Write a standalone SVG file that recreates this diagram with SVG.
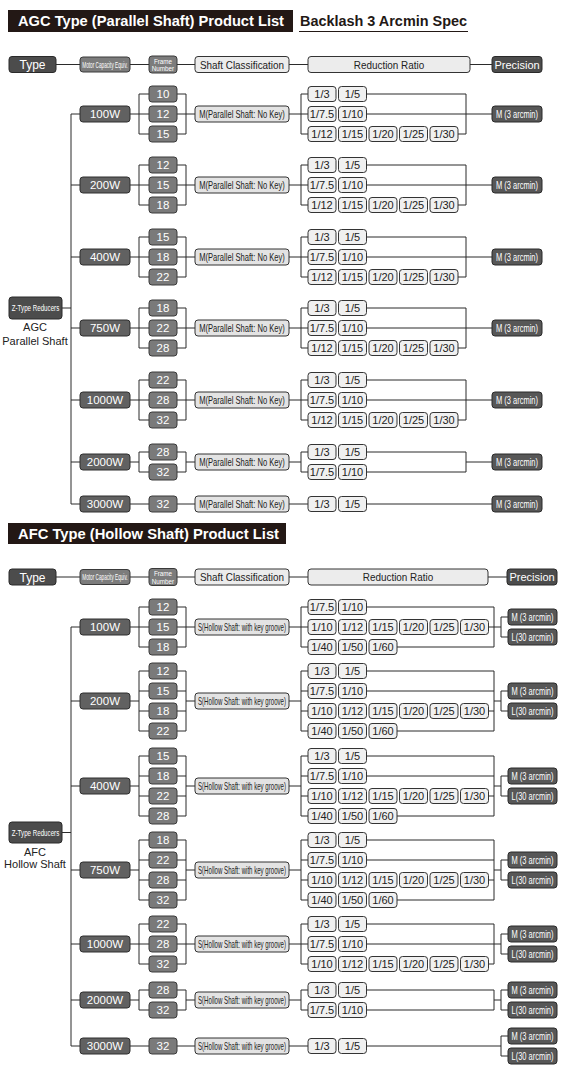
<svg xmlns="http://www.w3.org/2000/svg" width="565" height="1068" viewBox="0 0 565 1068">
<style>
text{font-family:"Liberation Sans",Arial,sans-serif;text-anchor:middle}
rect{rx:3px;ry:3px}
.w{fill:#616161;stroke:#2f2f2f;stroke-width:1}
.f{fill:#7a7a7a;stroke:#3a3a3a;stroke-width:1}
.s{fill:#e3e3e3;stroke:#333;stroke-width:1}
.r{fill:#f0f0f0;stroke:#333;stroke-width:1}
.p{fill:#575757;stroke:#2a2a2a;stroke-width:1}
.h{fill:#4c4c4c;stroke:#2a2a2a;stroke-width:1}
.m{fill:#7c7c7c;stroke:#3a3a3a;stroke-width:1}
.tw{fill:#fff;font-size:11.5px}
.tf{fill:#fff;font-size:11.5px}
.ts{fill:#222;font-size:10px}
.tr{fill:#222;font-size:11px}
.tp{fill:#fff;font-size:10px}
.tl{fill:#222;font-size:11px}
.tt{fill:#fff;font-size:14px;font-weight:bold;text-anchor:start}
.ln{fill:none;stroke:#2b2b2b;stroke-width:1}
</style>

<g id="agc-title"><rect x="8" y="10" width="285" height="22" fill="#231815" style="rx:0"/><text class="tt" x="18" y="26" textLength="266" lengthAdjust="spacingAndGlyphs">AGC Type (Parallel Shaft) Product List</text></g>
<g id="agc-subtitle"><text x="300" y="25.5" style="text-anchor:start;font-size:14px;font-weight:bold;fill:#231815" textLength="167" lengthAdjust="spacingAndGlyphs">Backlash 3 Arcmin Spec</text><line x1="299" y1="31.5" x2="468" y2="31.5" stroke="#231815" stroke-width="1.2"/></g>

<g id="agc-h-type"><rect class="h" x="9" y="56.5" width="47" height="16"/><text class="tw" x="32.5" y="69" style="font-size:12px">Type</text></g>
<g id="agc-h-motor"><rect class="m" x="80" y="57" width="50" height="15"/><text class="tp" transform="translate(105 67.8) scale(0.52 1)" style="font-size:9px">Motor Capacity Equiv.</text></g>
<g id="agc-h-frame"><rect class="m" x="149" y="56" width="28" height="17"/><text class="tp" transform="translate(163 63.5) scale(0.9 1)" style="font-size:7px">Frame</text><text class="tp" transform="translate(163 71) scale(0.9 1)" style="font-size:7px">Number</text></g>
<g id="agc-h-shaft"><rect class="s" x="195" y="56.5" width="94" height="16" style="fill:#ececec"/><text class="tr" transform="translate(242 68.5) scale(0.9 1)">Shaft Classification</text></g>
<g id="agc-h-ratio"><rect class="s" x="308" y="56.5" width="162" height="16" style="fill:#ececec"/><text class="tr" transform="translate(389 68.5) scale(0.9 1)">Reduction Ratio</text></g>
<g id="agc-h-prec"><rect class="h" x="492" y="56.5" width="50" height="16"/><text class="tw" x="517" y="68.5" style="font-size:11px">Precision</text></g>

<g id="agc-ztype"><rect class="h" x="9" y="297" width="53" height="22"/><text class="tp" transform="translate(35.5 311.2) scale(0.69 1)" style="font-size:9px">Z-Type Reducers</text></g>
<g id="agc-label"><text class="tl" x="35" y="331">AGC</text><text class="tl" x="35" y="345">Parallel Shaft</text></g>

<g id="connectors">
<path class="ln" d="M56 64.5H80M130 64.5H149M177 64.5H195M289 64.5H308M470 64.5H492"/>
<path class="ln" d="M71 114V504M62 308H71"/>
<path class="ln" d="M71 114H80M130 114H149M139 94V134H149M139 94H149M177 94H186V134H177M177 114H195M289 114H308M301 94V134H308M301 94H308M366.5 94H466V134H458M366.5 114H492"/>
<path class="ln" d="M71 185H80M130 185H149M139 165V205H149M139 165H149M177 165H186V205H177M177 185H195M289 185H308M301 165V205H308M301 165H308M366.5 165H466V205H458M366.5 185H492"/>
<path class="ln" d="M71 257H80M130 257H149M139 237V277H149M139 237H149M177 237H186V277H177M177 257H195M289 257H308M301 237V277H308M301 237H308M366.5 237H466V277H458M366.5 257H492"/>
<path class="ln" d="M71 328H80M130 328H149M139 308V348H149M139 308H149M177 308H186V348H177M177 328H195M289 328H308M301 308V348H308M301 308H308M366.5 308H466V348H458M366.5 328H492"/>
<path class="ln" d="M71 400H80M130 400H149M139 380V420H149M139 380H149M177 380H186V420H177M177 400H195M289 400H308M301 380V420H308M301 380H308M366.5 380H466V420H458M366.5 400H492"/>
<path class="ln" d="M71 462H80M130 462H139M139 452V472M139 452H149M139 472H149M177 452H186V472H177M186 462H195M289 462H301M301 452V472M301 452H308M301 472H308M366.5 452H466V472H366.5M466 462H492"/>
<path class="ln" d="M71 504H80M130 504H149M177 504H195M289 504H308M366.5 504H492"/>

<path class="ln" d="M56 577H80M130 577H149M177 577H195M289 577H308M488 577H507"/>
<path class="ln" d="M71 627V1046M62 832.5H71"/>
<path class="ln" d="M71 627H80M130 627H149M139 607V647H149M139 607H149M177 607H186V647H177M177 627H195M289 627H308M301 607V647H308M301 607H308M366.5 607H494V647H397M488.5 627H501M501 617V637M501 617H508M501 637H508"/>
<path class="ln" d="M71 701H80M130 701H139M139 671V731M139 671H149M139 691H149M139 711H149M139 731H149M177 671H186V731H177M177 691H186M177 711H186M186 701H195M289 701H301M301 671V731M301 671H308M301 691H308M301 711H308M301 731H308M366.5 671H494V731H397M366.5 691H494M488.5 711H494M494 701H501M501 691V711M501 691H508M501 711H508"/>
<path class="ln" d="M71 786H80M130 786H139M139 756V816M139 756H149M139 776H149M139 796H149M139 816H149M177 756H186V816H177M177 776H186M177 796H186M186 786H195M289 786H301M301 756V816M301 756H308M301 776H308M301 796H308M301 816H308M366.5 756H494V816H397M366.5 776H494M488.5 796H494M494 786H501M501 776V796M501 776H508M501 796H508"/>
<path class="ln" d="M71 870H80M130 870H139M139 840V900M139 840H149M139 860H149M139 880H149M139 900H149M177 840H186V900H177M177 860H186M177 880H186M186 870H195M289 870H301M301 840V900M301 840H308M301 860H308M301 880H308M301 900H308M366.5 840H494V900H397M366.5 860H494M488.5 880H494M494 870H501M501 860V880M501 860H508M501 880H508"/>
<path class="ln" d="M71 944H80M130 944H149M139 924V964H149M139 924H149M177 924H186V964H177M177 944H195M289 944H308M301 924V964H308M301 924H308M366.5 924H494V964H488.5M366.5 944H501M501 934V954M501 934H508M501 954H508"/>
<path class="ln" d="M71 1000H80M130 1000H139M139 990V1010M139 990H149M139 1010H149M177 990H186V1010H177M186 1000H195M289 1000H301M301 990V1010M301 990H308M301 1010H308M366.5 990H494V1010H366.5M494 1000H501M501 990V1010M501 990H508M501 1010H508"/>
<path class="ln" d="M71 1046H80M130 1046H149M177 1046H195M289 1046H308M366.5 1046H501M501 1036V1056M501 1036H508M501 1056H508"/>
</g>

<!-- AGC block 1: 100W -->
<g id="a1-w"><rect class="w" x="80" y="106" width="50" height="16"/><text class="tw" x="105" y="118">100W</text></g>
<g id="a1-f1"><rect class="f" x="149" y="86" width="28" height="16"/><text class="tf" x="163" y="98">10</text></g>
<g id="a1-f2"><rect class="f" x="149" y="106" width="28" height="16"/><text class="tf" x="163" y="118">12</text></g>
<g id="a1-f3"><rect class="f" x="149" y="126" width="28" height="16"/><text class="tf" x="163" y="138">15</text></g>
<g id="a1-s"><rect class="s" x="195" y="106" width="94" height="16"/><text class="ts" transform="translate(242 117.5) scale(0.76 1)">M(Parallel Shaft: No Key)</text></g>
<g id="a1-r1c1"><rect class="r" x="308" y="86.5" width="28" height="15"/><text class="tr" x="322" y="98">1/3</text></g>
<g id="a1-r1c2"><rect class="r" x="338.5" y="86.5" width="28" height="15"/><text class="tr" x="352.5" y="98">1/5</text></g>
<g id="a1-r2c1"><rect class="r" x="308" y="106.5" width="28" height="15"/><text class="tr" x="322" y="118">1/7.5</text></g>
<g id="a1-r2c2"><rect class="r" x="338.5" y="106.5" width="28" height="15"/><text class="tr" x="352.5" y="118">1/10</text></g>
<g id="a1-r3c1"><rect class="r" x="308" y="126.5" width="28" height="15"/><text class="tr" x="322" y="138">1/12</text></g>
<g id="a1-r3c2"><rect class="r" x="338.5" y="126.5" width="28" height="15"/><text class="tr" x="352.5" y="138">1/15</text></g>
<g id="a1-r3c3"><rect class="r" x="369" y="126.5" width="28" height="15"/><text class="tr" x="383" y="138">1/20</text></g>
<g id="a1-r3c4"><rect class="r" x="399.5" y="126.5" width="28" height="15"/><text class="tr" x="413.5" y="138">1/25</text></g>
<g id="a1-r3c5"><rect class="r" x="430" y="126.5" width="28" height="15"/><text class="tr" x="444" y="138">1/30</text></g>
<g id="a1-p"><rect class="p" x="492" y="106" width="50" height="16"/><text class="tp" transform="translate(517 117.5) scale(0.75 1)">M (3 arcmin)</text></g>

<!-- AGC block 2: 200W -->
<g id="a2-w"><rect class="w" x="80" y="177" width="50" height="16"/><text class="tw" x="105" y="189">200W</text></g>
<g id="a2-f1"><rect class="f" x="149" y="157" width="28" height="16"/><text class="tf" x="163" y="169">12</text></g>
<g id="a2-f2"><rect class="f" x="149" y="177" width="28" height="16"/><text class="tf" x="163" y="189">15</text></g>
<g id="a2-f3"><rect class="f" x="149" y="197" width="28" height="16"/><text class="tf" x="163" y="209">18</text></g>
<g id="a2-s"><rect class="s" x="195" y="177" width="94" height="16"/><text class="ts" transform="translate(242 188.5) scale(0.76 1)">M(Parallel Shaft: No Key)</text></g>
<g id="a2-r1c1"><rect class="r" x="308" y="157.5" width="28" height="15"/><text class="tr" x="322" y="169">1/3</text></g>
<g id="a2-r1c2"><rect class="r" x="338.5" y="157.5" width="28" height="15"/><text class="tr" x="352.5" y="169">1/5</text></g>
<g id="a2-r2c1"><rect class="r" x="308" y="177.5" width="28" height="15"/><text class="tr" x="322" y="189">1/7.5</text></g>
<g id="a2-r2c2"><rect class="r" x="338.5" y="177.5" width="28" height="15"/><text class="tr" x="352.5" y="189">1/10</text></g>
<g id="a2-r3c1"><rect class="r" x="308" y="197.5" width="28" height="15"/><text class="tr" x="322" y="209">1/12</text></g>
<g id="a2-r3c2"><rect class="r" x="338.5" y="197.5" width="28" height="15"/><text class="tr" x="352.5" y="209">1/15</text></g>
<g id="a2-r3c3"><rect class="r" x="369" y="197.5" width="28" height="15"/><text class="tr" x="383" y="209">1/20</text></g>
<g id="a2-r3c4"><rect class="r" x="399.5" y="197.5" width="28" height="15"/><text class="tr" x="413.5" y="209">1/25</text></g>
<g id="a2-r3c5"><rect class="r" x="430" y="197.5" width="28" height="15"/><text class="tr" x="444" y="209">1/30</text></g>
<g id="a2-p"><rect class="p" x="492" y="177" width="50" height="16"/><text class="tp" transform="translate(517 188.5) scale(0.75 1)">M (3 arcmin)</text></g>

<!-- AGC block 3: 400W -->
<g id="a3-w"><rect class="w" x="80" y="249" width="50" height="16"/><text class="tw" x="105" y="261">400W</text></g>
<g id="a3-f1"><rect class="f" x="149" y="229" width="28" height="16"/><text class="tf" x="163" y="241">15</text></g>
<g id="a3-f2"><rect class="f" x="149" y="249" width="28" height="16"/><text class="tf" x="163" y="261">18</text></g>
<g id="a3-f3"><rect class="f" x="149" y="269" width="28" height="16"/><text class="tf" x="163" y="281">22</text></g>
<g id="a3-s"><rect class="s" x="195" y="249" width="94" height="16"/><text class="ts" transform="translate(242 260.5) scale(0.76 1)">M(Parallel Shaft: No Key)</text></g>
<g id="a3-r1c1"><rect class="r" x="308" y="229.5" width="28" height="15"/><text class="tr" x="322" y="241">1/3</text></g>
<g id="a3-r1c2"><rect class="r" x="338.5" y="229.5" width="28" height="15"/><text class="tr" x="352.5" y="241">1/5</text></g>
<g id="a3-r2c1"><rect class="r" x="308" y="249.5" width="28" height="15"/><text class="tr" x="322" y="261">1/7.5</text></g>
<g id="a3-r2c2"><rect class="r" x="338.5" y="249.5" width="28" height="15"/><text class="tr" x="352.5" y="261">1/10</text></g>
<g id="a3-r3c1"><rect class="r" x="308" y="269.5" width="28" height="15"/><text class="tr" x="322" y="281">1/12</text></g>
<g id="a3-r3c2"><rect class="r" x="338.5" y="269.5" width="28" height="15"/><text class="tr" x="352.5" y="281">1/15</text></g>
<g id="a3-r3c3"><rect class="r" x="369" y="269.5" width="28" height="15"/><text class="tr" x="383" y="281">1/20</text></g>
<g id="a3-r3c4"><rect class="r" x="399.5" y="269.5" width="28" height="15"/><text class="tr" x="413.5" y="281">1/25</text></g>
<g id="a3-r3c5"><rect class="r" x="430" y="269.5" width="28" height="15"/><text class="tr" x="444" y="281">1/30</text></g>
<g id="a3-p"><rect class="p" x="492" y="249" width="50" height="16"/><text class="tp" transform="translate(517 260.5) scale(0.75 1)">M (3 arcmin)</text></g>

<!-- AGC block 4: 750W -->
<g id="a4-w"><rect class="w" x="80" y="320" width="50" height="16"/><text class="tw" x="105" y="332">750W</text></g>
<g id="a4-f1"><rect class="f" x="149" y="300" width="28" height="16"/><text class="tf" x="163" y="312">18</text></g>
<g id="a4-f2"><rect class="f" x="149" y="320" width="28" height="16"/><text class="tf" x="163" y="332">22</text></g>
<g id="a4-f3"><rect class="f" x="149" y="340" width="28" height="16"/><text class="tf" x="163" y="352">28</text></g>
<g id="a4-s"><rect class="s" x="195" y="320" width="94" height="16"/><text class="ts" transform="translate(242 331.5) scale(0.76 1)">M(Parallel Shaft: No Key)</text></g>
<g id="a4-r1c1"><rect class="r" x="308" y="300.5" width="28" height="15"/><text class="tr" x="322" y="312">1/3</text></g>
<g id="a4-r1c2"><rect class="r" x="338.5" y="300.5" width="28" height="15"/><text class="tr" x="352.5" y="312">1/5</text></g>
<g id="a4-r2c1"><rect class="r" x="308" y="320.5" width="28" height="15"/><text class="tr" x="322" y="332">1/7.5</text></g>
<g id="a4-r2c2"><rect class="r" x="338.5" y="320.5" width="28" height="15"/><text class="tr" x="352.5" y="332">1/10</text></g>
<g id="a4-r3c1"><rect class="r" x="308" y="340.5" width="28" height="15"/><text class="tr" x="322" y="352">1/12</text></g>
<g id="a4-r3c2"><rect class="r" x="338.5" y="340.5" width="28" height="15"/><text class="tr" x="352.5" y="352">1/15</text></g>
<g id="a4-r3c3"><rect class="r" x="369" y="340.5" width="28" height="15"/><text class="tr" x="383" y="352">1/20</text></g>
<g id="a4-r3c4"><rect class="r" x="399.5" y="340.5" width="28" height="15"/><text class="tr" x="413.5" y="352">1/25</text></g>
<g id="a4-r3c5"><rect class="r" x="430" y="340.5" width="28" height="15"/><text class="tr" x="444" y="352">1/30</text></g>
<g id="a4-p"><rect class="p" x="492" y="320" width="50" height="16"/><text class="tp" transform="translate(517 331.5) scale(0.75 1)">M (3 arcmin)</text></g>

<!-- AGC block 5: 1000W -->
<g id="a5-w"><rect class="w" x="80" y="392" width="50" height="16"/><text class="tw" x="105" y="404">1000W</text></g>
<g id="a5-f1"><rect class="f" x="149" y="372" width="28" height="16"/><text class="tf" x="163" y="384">22</text></g>
<g id="a5-f2"><rect class="f" x="149" y="392" width="28" height="16"/><text class="tf" x="163" y="404">28</text></g>
<g id="a5-f3"><rect class="f" x="149" y="412" width="28" height="16"/><text class="tf" x="163" y="424">32</text></g>
<g id="a5-s"><rect class="s" x="195" y="392" width="94" height="16"/><text class="ts" transform="translate(242 403.5) scale(0.76 1)">M(Parallel Shaft: No Key)</text></g>
<g id="a5-r1c1"><rect class="r" x="308" y="372.5" width="28" height="15"/><text class="tr" x="322" y="384">1/3</text></g>
<g id="a5-r1c2"><rect class="r" x="338.5" y="372.5" width="28" height="15"/><text class="tr" x="352.5" y="384">1/5</text></g>
<g id="a5-r2c1"><rect class="r" x="308" y="392.5" width="28" height="15"/><text class="tr" x="322" y="404">1/7.5</text></g>
<g id="a5-r2c2"><rect class="r" x="338.5" y="392.5" width="28" height="15"/><text class="tr" x="352.5" y="404">1/10</text></g>
<g id="a5-r3c1"><rect class="r" x="308" y="412.5" width="28" height="15"/><text class="tr" x="322" y="424">1/12</text></g>
<g id="a5-r3c2"><rect class="r" x="338.5" y="412.5" width="28" height="15"/><text class="tr" x="352.5" y="424">1/15</text></g>
<g id="a5-r3c3"><rect class="r" x="369" y="412.5" width="28" height="15"/><text class="tr" x="383" y="424">1/20</text></g>
<g id="a5-r3c4"><rect class="r" x="399.5" y="412.5" width="28" height="15"/><text class="tr" x="413.5" y="424">1/25</text></g>
<g id="a5-r3c5"><rect class="r" x="430" y="412.5" width="28" height="15"/><text class="tr" x="444" y="424">1/30</text></g>
<g id="a5-p"><rect class="p" x="492" y="392" width="50" height="16"/><text class="tp" transform="translate(517 403.5) scale(0.75 1)">M (3 arcmin)</text></g>

<!-- AGC block 6: 2000W -->
<g id="a6-w"><rect class="w" x="80" y="454" width="50" height="16"/><text class="tw" x="105" y="466">2000W</text></g>
<g id="a6-f1"><rect class="f" x="149" y="444" width="28" height="16"/><text class="tf" x="163" y="456">28</text></g>
<g id="a6-f2"><rect class="f" x="149" y="464" width="28" height="16"/><text class="tf" x="163" y="476">32</text></g>
<g id="a6-s"><rect class="s" x="195" y="454" width="94" height="16"/><text class="ts" transform="translate(242 465.5) scale(0.76 1)">M(Parallel Shaft: No Key)</text></g>
<g id="a6-r1c1"><rect class="r" x="308" y="444.5" width="28" height="15"/><text class="tr" x="322" y="456">1/3</text></g>
<g id="a6-r1c2"><rect class="r" x="338.5" y="444.5" width="28" height="15"/><text class="tr" x="352.5" y="456">1/5</text></g>
<g id="a6-r2c1"><rect class="r" x="308" y="464.5" width="28" height="15"/><text class="tr" x="322" y="476">1/7.5</text></g>
<g id="a6-r2c2"><rect class="r" x="338.5" y="464.5" width="28" height="15"/><text class="tr" x="352.5" y="476">1/10</text></g>
<g id="a6-p"><rect class="p" x="492" y="454" width="50" height="16"/><text class="tp" transform="translate(517 465.5) scale(0.75 1)">M (3 arcmin)</text></g>

<!-- AGC block 7: 3000W -->
<g id="a7-w"><rect class="w" x="80" y="496" width="50" height="16"/><text class="tw" x="105" y="508">3000W</text></g>
<g id="a7-f1"><rect class="f" x="149" y="496" width="28" height="16"/><text class="tf" x="163" y="508">32</text></g>
<g id="a7-s"><rect class="s" x="195" y="496" width="94" height="16"/><text class="ts" transform="translate(242 507.5) scale(0.76 1)">M(Parallel Shaft: No Key)</text></g>
<g id="a7-r1c1"><rect class="r" x="308" y="496.5" width="28" height="15"/><text class="tr" x="322" y="508">1/3</text></g>
<g id="a7-r1c2"><rect class="r" x="338.5" y="496.5" width="28" height="15"/><text class="tr" x="352.5" y="508">1/5</text></g>
<g id="a7-p"><rect class="p" x="492" y="496" width="50" height="16"/><text class="tp" transform="translate(517 507.5) scale(0.75 1)">M (3 arcmin)</text></g>

<!-- AFC -->
<g id="afc-title"><rect x="8" y="523" width="278" height="21" fill="#231815" style="rx:0"/><text class="tt" x="18" y="538.5" textLength="261" lengthAdjust="spacingAndGlyphs">AFC Type (Hollow Shaft) Product List</text></g>

<g id="afc-h-type"><rect class="h" x="9" y="569" width="47" height="16"/><text class="tw" x="32.5" y="581.5" style="font-size:12px">Type</text></g>
<g id="afc-h-motor"><rect class="m" x="80" y="569.5" width="50" height="15"/><text class="tp" transform="translate(105 580.3) scale(0.52 1)" style="font-size:9px">Motor Capacity Equiv.</text></g>
<g id="afc-h-frame"><rect class="m" x="149" y="568.5" width="28" height="17"/><text class="tp" transform="translate(163 576) scale(0.9 1)" style="font-size:7px">Frame</text><text class="tp" transform="translate(163 583.5) scale(0.9 1)" style="font-size:7px">Number</text></g>
<g id="afc-h-shaft"><rect class="s" x="195" y="569" width="94" height="16" style="fill:#ececec"/><text class="tr" transform="translate(242 581) scale(0.9 1)">Shaft Classification</text></g>
<g id="afc-h-ratio"><rect class="s" x="308" y="569" width="180" height="16" style="fill:#ececec"/><text class="tr" transform="translate(398 581) scale(0.9 1)">Reduction Ratio</text></g>
<g id="afc-h-prec"><rect class="h" x="507" y="569" width="50" height="16"/><text class="tw" x="532" y="581" style="font-size:11px">Precision</text></g>

<g id="afc-ztype"><rect class="h" x="9" y="822" width="53" height="21"/><text class="tp" transform="translate(35.5 835.7) scale(0.69 1)" style="font-size:9px">Z-Type Reducers</text></g>
<g id="afc-label"><text class="tl" x="35" y="855.5">AFC</text><text class="tl" x="35" y="868">Hollow Shaft</text></g>

<!-- AFC block 1: 100W -->
<g id="b1-w"><rect class="w" x="80" y="619" width="50" height="16"/><text class="tw" x="105" y="631">100W</text></g>
<g id="b1-f1"><rect class="f" x="149" y="599" width="28" height="16"/><text class="tf" x="163" y="611">12</text></g>
<g id="b1-f2"><rect class="f" x="149" y="619" width="28" height="16"/><text class="tf" x="163" y="631">15</text></g>
<g id="b1-f3"><rect class="f" x="149" y="639" width="28" height="16"/><text class="tf" x="163" y="651">18</text></g>
<g id="b1-s"><rect class="s" x="195" y="619" width="94" height="16"/><text class="ts" transform="translate(242 630.5) scale(0.61 1)">S(Hollow Shaft: with key groove)</text></g>
<g id="b1-r1c1"><rect class="r" x="308" y="599.5" width="28" height="15"/><text class="tr" x="322" y="611">1/7.5</text></g>
<g id="b1-r1c2"><rect class="r" x="338.5" y="599.5" width="28" height="15"/><text class="tr" x="352.5" y="611">1/10</text></g>
<g id="b1-r2c1"><rect class="r" x="308" y="619.5" width="28" height="15"/><text class="tr" x="322" y="631">1/10</text></g>
<g id="b1-r2c2"><rect class="r" x="338.5" y="619.5" width="28" height="15"/><text class="tr" x="352.5" y="631">1/12</text></g>
<g id="b1-r2c3"><rect class="r" x="369" y="619.5" width="28" height="15"/><text class="tr" x="383" y="631">1/15</text></g>
<g id="b1-r2c4"><rect class="r" x="399.5" y="619.5" width="28" height="15"/><text class="tr" x="413.5" y="631">1/20</text></g>
<g id="b1-r2c5"><rect class="r" x="430" y="619.5" width="28" height="15"/><text class="tr" x="444" y="631">1/25</text></g>
<g id="b1-r2c6"><rect class="r" x="460.5" y="619.5" width="28" height="15"/><text class="tr" x="474.5" y="631">1/30</text></g>
<g id="b1-r3c1"><rect class="r" x="308" y="639.5" width="28" height="15"/><text class="tr" x="322" y="651">1/40</text></g>
<g id="b1-r3c2"><rect class="r" x="338.5" y="639.5" width="28" height="15"/><text class="tr" x="352.5" y="651">1/50</text></g>
<g id="b1-r3c3"><rect class="r" x="369" y="639.5" width="28" height="15"/><text class="tr" x="383" y="651">1/60</text></g>
<g id="b1-pm"><rect class="p" x="508" y="609" width="49" height="16"/><text class="tp" transform="translate(532.5 620.5) scale(0.75 1)">M (3 arcmin)</text></g>
<g id="b1-pl"><rect class="p" x="508" y="629" width="49" height="16"/><text class="tp" transform="translate(532.5 640.5) scale(0.75 1)">L(30 arcmin)</text></g>

<!-- AFC block 2: 200W -->
<g id="b2-w"><rect class="w" x="80" y="693" width="50" height="16"/><text class="tw" x="105" y="705">200W</text></g>
<g id="b2-f1"><rect class="f" x="149" y="663" width="28" height="16"/><text class="tf" x="163" y="675">12</text></g>
<g id="b2-f2"><rect class="f" x="149" y="683" width="28" height="16"/><text class="tf" x="163" y="695">15</text></g>
<g id="b2-f3"><rect class="f" x="149" y="703" width="28" height="16"/><text class="tf" x="163" y="715">18</text></g>
<g id="b2-f4"><rect class="f" x="149" y="723" width="28" height="16"/><text class="tf" x="163" y="735">22</text></g>
<g id="b2-s"><rect class="s" x="195" y="693" width="94" height="16"/><text class="ts" transform="translate(242 704.5) scale(0.61 1)">S(Hollow Shaft: with key groove)</text></g>
<g id="b2-r1c1"><rect class="r" x="308" y="663.5" width="28" height="15"/><text class="tr" x="322" y="675">1/3</text></g>
<g id="b2-r1c2"><rect class="r" x="338.5" y="663.5" width="28" height="15"/><text class="tr" x="352.5" y="675">1/5</text></g>
<g id="b2-r2c1"><rect class="r" x="308" y="683.5" width="28" height="15"/><text class="tr" x="322" y="695">1/7.5</text></g>
<g id="b2-r2c2"><rect class="r" x="338.5" y="683.5" width="28" height="15"/><text class="tr" x="352.5" y="695">1/10</text></g>
<g id="b2-r3c1"><rect class="r" x="308" y="703.5" width="28" height="15"/><text class="tr" x="322" y="715">1/10</text></g>
<g id="b2-r3c2"><rect class="r" x="338.5" y="703.5" width="28" height="15"/><text class="tr" x="352.5" y="715">1/12</text></g>
<g id="b2-r3c3"><rect class="r" x="369" y="703.5" width="28" height="15"/><text class="tr" x="383" y="715">1/15</text></g>
<g id="b2-r3c4"><rect class="r" x="399.5" y="703.5" width="28" height="15"/><text class="tr" x="413.5" y="715">1/20</text></g>
<g id="b2-r3c5"><rect class="r" x="430" y="703.5" width="28" height="15"/><text class="tr" x="444" y="715">1/25</text></g>
<g id="b2-r3c6"><rect class="r" x="460.5" y="703.5" width="28" height="15"/><text class="tr" x="474.5" y="715">1/30</text></g>
<g id="b2-r4c1"><rect class="r" x="308" y="723.5" width="28" height="15"/><text class="tr" x="322" y="735">1/40</text></g>
<g id="b2-r4c2"><rect class="r" x="338.5" y="723.5" width="28" height="15"/><text class="tr" x="352.5" y="735">1/50</text></g>
<g id="b2-r4c3"><rect class="r" x="369" y="723.5" width="28" height="15"/><text class="tr" x="383" y="735">1/60</text></g>
<g id="b2-pm"><rect class="p" x="508" y="683" width="49" height="16"/><text class="tp" transform="translate(532.5 694.5) scale(0.75 1)">M (3 arcmin)</text></g>
<g id="b2-pl"><rect class="p" x="508" y="703" width="49" height="16"/><text class="tp" transform="translate(532.5 714.5) scale(0.75 1)">L(30 arcmin)</text></g>

<!-- AFC block 3: 400W -->
<g id="b3-w"><rect class="w" x="80" y="778" width="50" height="16"/><text class="tw" x="105" y="790">400W</text></g>
<g id="b3-f1"><rect class="f" x="149" y="748" width="28" height="16"/><text class="tf" x="163" y="760">15</text></g>
<g id="b3-f2"><rect class="f" x="149" y="768" width="28" height="16"/><text class="tf" x="163" y="780">18</text></g>
<g id="b3-f3"><rect class="f" x="149" y="788" width="28" height="16"/><text class="tf" x="163" y="800">22</text></g>
<g id="b3-f4"><rect class="f" x="149" y="808" width="28" height="16"/><text class="tf" x="163" y="820">28</text></g>
<g id="b3-s"><rect class="s" x="195" y="778" width="94" height="16"/><text class="ts" transform="translate(242 789.5) scale(0.61 1)">S(Hollow Shaft: with key groove)</text></g>
<g id="b3-r1c1"><rect class="r" x="308" y="748.5" width="28" height="15"/><text class="tr" x="322" y="760">1/3</text></g>
<g id="b3-r1c2"><rect class="r" x="338.5" y="748.5" width="28" height="15"/><text class="tr" x="352.5" y="760">1/5</text></g>
<g id="b3-r2c1"><rect class="r" x="308" y="768.5" width="28" height="15"/><text class="tr" x="322" y="780">1/7.5</text></g>
<g id="b3-r2c2"><rect class="r" x="338.5" y="768.5" width="28" height="15"/><text class="tr" x="352.5" y="780">1/10</text></g>
<g id="b3-r3c1"><rect class="r" x="308" y="788.5" width="28" height="15"/><text class="tr" x="322" y="800">1/10</text></g>
<g id="b3-r3c2"><rect class="r" x="338.5" y="788.5" width="28" height="15"/><text class="tr" x="352.5" y="800">1/12</text></g>
<g id="b3-r3c3"><rect class="r" x="369" y="788.5" width="28" height="15"/><text class="tr" x="383" y="800">1/15</text></g>
<g id="b3-r3c4"><rect class="r" x="399.5" y="788.5" width="28" height="15"/><text class="tr" x="413.5" y="800">1/20</text></g>
<g id="b3-r3c5"><rect class="r" x="430" y="788.5" width="28" height="15"/><text class="tr" x="444" y="800">1/25</text></g>
<g id="b3-r3c6"><rect class="r" x="460.5" y="788.5" width="28" height="15"/><text class="tr" x="474.5" y="800">1/30</text></g>
<g id="b3-r4c1"><rect class="r" x="308" y="808.5" width="28" height="15"/><text class="tr" x="322" y="820">1/40</text></g>
<g id="b3-r4c2"><rect class="r" x="338.5" y="808.5" width="28" height="15"/><text class="tr" x="352.5" y="820">1/50</text></g>
<g id="b3-r4c3"><rect class="r" x="369" y="808.5" width="28" height="15"/><text class="tr" x="383" y="820">1/60</text></g>
<g id="b3-pm"><rect class="p" x="508" y="768" width="49" height="16"/><text class="tp" transform="translate(532.5 779.5) scale(0.75 1)">M (3 arcmin)</text></g>
<g id="b3-pl"><rect class="p" x="508" y="788" width="49" height="16"/><text class="tp" transform="translate(532.5 799.5) scale(0.75 1)">L(30 arcmin)</text></g>

<!-- AFC block 4: 750W -->
<g id="b4-w"><rect class="w" x="80" y="862" width="50" height="16"/><text class="tw" x="105" y="874">750W</text></g>
<g id="b4-f1"><rect class="f" x="149" y="832" width="28" height="16"/><text class="tf" x="163" y="844">18</text></g>
<g id="b4-f2"><rect class="f" x="149" y="852" width="28" height="16"/><text class="tf" x="163" y="864">22</text></g>
<g id="b4-f3"><rect class="f" x="149" y="872" width="28" height="16"/><text class="tf" x="163" y="884">28</text></g>
<g id="b4-f4"><rect class="f" x="149" y="892" width="28" height="16"/><text class="tf" x="163" y="904">32</text></g>
<g id="b4-s"><rect class="s" x="195" y="862" width="94" height="16"/><text class="ts" transform="translate(242 873.5) scale(0.61 1)">S(Hollow Shaft: with key groove)</text></g>
<g id="b4-r1c1"><rect class="r" x="308" y="832.5" width="28" height="15"/><text class="tr" x="322" y="844">1/3</text></g>
<g id="b4-r1c2"><rect class="r" x="338.5" y="832.5" width="28" height="15"/><text class="tr" x="352.5" y="844">1/5</text></g>
<g id="b4-r2c1"><rect class="r" x="308" y="852.5" width="28" height="15"/><text class="tr" x="322" y="864">1/7.5</text></g>
<g id="b4-r2c2"><rect class="r" x="338.5" y="852.5" width="28" height="15"/><text class="tr" x="352.5" y="864">1/10</text></g>
<g id="b4-r3c1"><rect class="r" x="308" y="872.5" width="28" height="15"/><text class="tr" x="322" y="884">1/10</text></g>
<g id="b4-r3c2"><rect class="r" x="338.5" y="872.5" width="28" height="15"/><text class="tr" x="352.5" y="884">1/12</text></g>
<g id="b4-r3c3"><rect class="r" x="369" y="872.5" width="28" height="15"/><text class="tr" x="383" y="884">1/15</text></g>
<g id="b4-r3c4"><rect class="r" x="399.5" y="872.5" width="28" height="15"/><text class="tr" x="413.5" y="884">1/20</text></g>
<g id="b4-r3c5"><rect class="r" x="430" y="872.5" width="28" height="15"/><text class="tr" x="444" y="884">1/25</text></g>
<g id="b4-r3c6"><rect class="r" x="460.5" y="872.5" width="28" height="15"/><text class="tr" x="474.5" y="884">1/30</text></g>
<g id="b4-r4c1"><rect class="r" x="308" y="892.5" width="28" height="15"/><text class="tr" x="322" y="904">1/40</text></g>
<g id="b4-r4c2"><rect class="r" x="338.5" y="892.5" width="28" height="15"/><text class="tr" x="352.5" y="904">1/50</text></g>
<g id="b4-r4c3"><rect class="r" x="369" y="892.5" width="28" height="15"/><text class="tr" x="383" y="904">1/60</text></g>
<g id="b4-pm"><rect class="p" x="508" y="852" width="49" height="16"/><text class="tp" transform="translate(532.5 863.5) scale(0.75 1)">M (3 arcmin)</text></g>
<g id="b4-pl"><rect class="p" x="508" y="872" width="49" height="16"/><text class="tp" transform="translate(532.5 883.5) scale(0.75 1)">L(30 arcmin)</text></g>

<!-- AFC block 5: 1000W -->
<g id="b5-w"><rect class="w" x="80" y="936" width="50" height="16"/><text class="tw" x="105" y="948">1000W</text></g>
<g id="b5-f1"><rect class="f" x="149" y="916" width="28" height="16"/><text class="tf" x="163" y="928">22</text></g>
<g id="b5-f2"><rect class="f" x="149" y="936" width="28" height="16"/><text class="tf" x="163" y="948">28</text></g>
<g id="b5-f3"><rect class="f" x="149" y="956" width="28" height="16"/><text class="tf" x="163" y="968">32</text></g>
<g id="b5-s"><rect class="s" x="195" y="936" width="94" height="16"/><text class="ts" transform="translate(242 947.5) scale(0.61 1)">S(Hollow Shaft: with key groove)</text></g>
<g id="b5-r1c1"><rect class="r" x="308" y="916.5" width="28" height="15"/><text class="tr" x="322" y="928">1/3</text></g>
<g id="b5-r1c2"><rect class="r" x="338.5" y="916.5" width="28" height="15"/><text class="tr" x="352.5" y="928">1/5</text></g>
<g id="b5-r2c1"><rect class="r" x="308" y="936.5" width="28" height="15"/><text class="tr" x="322" y="948">1/7.5</text></g>
<g id="b5-r2c2"><rect class="r" x="338.5" y="936.5" width="28" height="15"/><text class="tr" x="352.5" y="948">1/10</text></g>
<g id="b5-r3c1"><rect class="r" x="308" y="956.5" width="28" height="15"/><text class="tr" x="322" y="968">1/10</text></g>
<g id="b5-r3c2"><rect class="r" x="338.5" y="956.5" width="28" height="15"/><text class="tr" x="352.5" y="968">1/12</text></g>
<g id="b5-r3c3"><rect class="r" x="369" y="956.5" width="28" height="15"/><text class="tr" x="383" y="968">1/15</text></g>
<g id="b5-r3c4"><rect class="r" x="399.5" y="956.5" width="28" height="15"/><text class="tr" x="413.5" y="968">1/20</text></g>
<g id="b5-r3c5"><rect class="r" x="430" y="956.5" width="28" height="15"/><text class="tr" x="444" y="968">1/25</text></g>
<g id="b5-r3c6"><rect class="r" x="460.5" y="956.5" width="28" height="15"/><text class="tr" x="474.5" y="968">1/30</text></g>
<g id="b5-pm"><rect class="p" x="508" y="926" width="49" height="16"/><text class="tp" transform="translate(532.5 937.5) scale(0.75 1)">M (3 arcmin)</text></g>
<g id="b5-pl"><rect class="p" x="508" y="946" width="49" height="16"/><text class="tp" transform="translate(532.5 957.5) scale(0.75 1)">L(30 arcmin)</text></g>

<!-- AFC block 6: 2000W -->
<g id="b6-w"><rect class="w" x="80" y="992" width="50" height="16"/><text class="tw" x="105" y="1004">2000W</text></g>
<g id="b6-f1"><rect class="f" x="149" y="982" width="28" height="16"/><text class="tf" x="163" y="994">28</text></g>
<g id="b6-f2"><rect class="f" x="149" y="1002" width="28" height="16"/><text class="tf" x="163" y="1014">32</text></g>
<g id="b6-s"><rect class="s" x="195" y="992" width="94" height="16"/><text class="ts" transform="translate(242 1003.5) scale(0.61 1)">S(Hollow Shaft: with key groove)</text></g>
<g id="b6-r1c1"><rect class="r" x="308" y="982.5" width="28" height="15"/><text class="tr" x="322" y="994">1/3</text></g>
<g id="b6-r1c2"><rect class="r" x="338.5" y="982.5" width="28" height="15"/><text class="tr" x="352.5" y="994">1/5</text></g>
<g id="b6-r2c1"><rect class="r" x="308" y="1002.5" width="28" height="15"/><text class="tr" x="322" y="1014">1/7.5</text></g>
<g id="b6-r2c2"><rect class="r" x="338.5" y="1002.5" width="28" height="15"/><text class="tr" x="352.5" y="1014">1/10</text></g>
<g id="b6-pm"><rect class="p" x="508" y="982" width="49" height="16"/><text class="tp" transform="translate(532.5 993.5) scale(0.75 1)">M (3 arcmin)</text></g>
<g id="b6-pl"><rect class="p" x="508" y="1002" width="49" height="16"/><text class="tp" transform="translate(532.5 1013.5) scale(0.75 1)">L(30 arcmin)</text></g>

<!-- AFC block 7: 3000W -->
<g id="b7-w"><rect class="w" x="80" y="1038" width="50" height="16"/><text class="tw" x="105" y="1050">3000W</text></g>
<g id="b7-f1"><rect class="f" x="149" y="1038" width="28" height="16"/><text class="tf" x="163" y="1050">32</text></g>
<g id="b7-s"><rect class="s" x="195" y="1038" width="94" height="16"/><text class="ts" transform="translate(242 1049.5) scale(0.61 1)">S(Hollow Shaft: with key groove)</text></g>
<g id="b7-r1c1"><rect class="r" x="308" y="1038.5" width="28" height="15"/><text class="tr" x="322" y="1050">1/3</text></g>
<g id="b7-r1c2"><rect class="r" x="338.5" y="1038.5" width="28" height="15"/><text class="tr" x="352.5" y="1050">1/5</text></g>
<g id="b7-pm"><rect class="p" x="508" y="1028" width="49" height="16"/><text class="tp" transform="translate(532.5 1039.5) scale(0.75 1)">M (3 arcmin)</text></g>
<g id="b7-pl"><rect class="p" x="508" y="1048" width="49" height="16"/><text class="tp" transform="translate(532.5 1059.5) scale(0.75 1)">L(30 arcmin)</text></g>
</svg>
